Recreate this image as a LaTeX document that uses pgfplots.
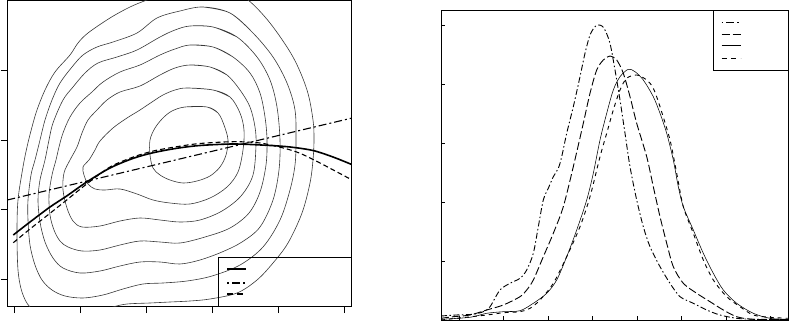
\documentclass[border=0pt]{standalone}
\usepackage{pgfplots}
\pgfplotsset{compat=1.18}
\begin{document}
\begin{tikzpicture}
\useasboundingbox (0pt,0pt) rectangle (789pt,321pt);
\begin{axis}[
  at={(7.3pt,14.3pt)}, anchor=south west,
  scale only axis, width=344.4pt, height=306.2pt,
  xmin=7.3, xmax=351.7, ymin=-306.7, ymax=-0.5,
  xtick={14,80,146,212,278,344}, ytick={-279.3,-209.3,-140,-70},
  xticklabels={}, yticklabels={},
  tick align=outside, xtick pos=left, ytick pos=left,
  major tick length=6.5pt,
  axis line style={line width=0.8pt},
  every tick/.style={black, line width=0.7pt},
  contour/.style={black!78, line width=0.6pt, smooth, tension=0.55},
]
% contours, innermost to outermost
\addplot[contour] coordinates {(185,-107)(207,-107)(218,-113)(224,-125)(228,-140)(226,-155)(220,-167)(210,-176)(197,-181)(183,-183)(170,-180)(160,-175)(153,-168)(150,-155)(150,-140)(155,-128)(163,-118)(172,-111)(185,-107)(207,-107)(218,-113)};
\addplot[contour] coordinates {(187,-88)(213,-90)(230,-97)(240,-113)(244,-130)(243,-150)(238,-172)(227,-187)(210,-198)(190,-204)(170,-203)(153,-200)(137,-194)(120,-189)(105,-190)(95,-189)(88,-184)(84,-175)(83,-167)(89,-160)(95,-150)(100,-141)(113,-128)(127,-118)(140,-110)(152,-102)(163,-95)(175,-90)(187,-88)(213,-90)(230,-97)};
\addplot[contour] coordinates {(190,-65)(210,-67)(227,-75)(240,-90)(250,-107)(255,-127)(256,-145)(253,-175)(241,-196)(222,-211)(200,-220)(180,-222)(160,-220)(140,-218)(120,-221)(100,-226)(82,-227)(73,-221)(67,-208)(63,-190)(64,-173)(70,-160)(77,-147)(82,-133)(88,-120)(97,-110)(107,-100)(120,-92)(140,-86)(160,-75)(175,-68)(190,-65)(210,-67)(227,-75)};
\addplot[contour] coordinates {(190,-45)(213,-47)(233,-57)(250,-73)(260,-93)(265,-117)(267,-140)(266,-165)(260,-192)(249,-213)(230,-228)(205,-237)(180,-243)(160,-242)(140,-241)(120,-245)(100,-250)(82,-251)(68,-247)(60,-241)(54,-230)(50,-215)(49,-195)(52,-175)(56,-160)(59,-147)(63,-133)(70,-117)(80,-103)(92,-92)(103,-82)(120,-72)(140,-65)(160,-55)(175,-49)(190,-45)(213,-47)(233,-57)};
\addplot[contour] coordinates {(190,-26)(213,-27)(237,-37)(257,-57)(270,-80)(277,-107)(280,-140)(279,-170)(273,-200)(260,-227)(242,-242)(222,-252)(200,-260)(180,-264)(160,-262)(140,-262)(120,-266)(100,-271)(80,-273)(63,-268)(53,-258)(45,-242)(40,-222)(38,-200)(40,-180)(45,-160)(49,-140)(53,-123)(63,-100)(73,-87)(85,-73)(98,-63)(117,-57)(137,-50)(160,-37)(175,-30)(190,-26)(213,-27)(237,-37)};
\addplot[contour] coordinates {(203,-7)(230,-13)(253,-33)(273,-57)(287,-83)(295,-110)(296,-140)(295,-165)(290,-190)(280,-220)(263,-247)(240,-265)(212,-276)(187,-281)(163,-283)(143,-284)(123,-289)(103,-295)(83,-298)(65,-296)(52,-290)(42,-280)(35,-265)(30,-245)(28,-220)(28,-200)(31,-175)(35,-160)(40,-140)(45,-120)(52,-100)(60,-83)(72,-67)(83,-55)(97,-47)(113,-42)(137,-33)(157,-18)(180,-11)(203,-7)(230,-13)(253,-33)};
\addplot[contour] coordinates {(170,8)(200,12)(230,8)(248,0)(270,-23)(293,-57)(307,-90)(313,-120)(314,-140)(313,-160)(310,-183)(302,-213)(288,-243)(273,-263)(257,-280)(237,-293)(210,-299)(190,-301)(170,-302)(150,-303)(127,-304)(113,-307)(95,-313)(70,-316)(45,-314)(30,-307)(22,-292)(18,-270)(17,-233)(18,-200)(23,-167)(27,-147)(32,-127)(37,-110)(45,-90)(55,-72)(70,-55)(78,-43)(88,-33)(110,-18)(130,-7)(147,0)(170,8)(200,12)(230,8)};
% fitted curves
\addplot[black, line width=1.6pt, smooth, tension=0.5] coordinates {(13.3,-235)(30,-222)(50,-207)(66.7,-196)(86.7,-182)(110,-168)(133.3,-158.3)(153.3,-152.7)(176.7,-148.3)(200,-145.5)(233.3,-144)(266.7,-145.3)(290,-147)(313,-150.5)(333,-157)(351.7,-164.5)};
\addplot[black, line width=1.1pt, dash pattern=on 8pt off 3pt on 2pt off 3pt] coordinates {(7.3,-200)(351.7,-118.1)};
\addplot[black, line width=1.1pt, dash pattern=on 5pt off 3pt, smooth, tension=0.5] coordinates {(13.3,-242.7)(30,-229)(50,-213.3)(66.7,-200)(86.7,-184)(110,-167)(133.3,-157)(153.3,-151)(176.7,-146.7)(200,-143.5)(233.3,-141.7)(260,-143)(283.3,-148)(300,-153.3)(320,-163)(351.7,-179.8)};
% legend
\draw[black, line width=0.8pt] (axis cs:218,-306.7) rectangle (axis cs:351.7,-257);
\draw[black, line width=1.6pt] (axis cs:227,-269) -- (axis cs:246,-269);
\draw[black, line width=1.1pt, dash pattern=on 2pt off 3pt on 8pt off 3pt] (axis cs:227,-283) -- (axis cs:246,-283);
\draw[black, line width=1.1pt, dash pattern=on 6pt off 3.5pt] (axis cs:227,-294) -- (axis cs:246,-294);
\end{axis}

\begin{axis}[
  at={(441pt,1pt)}, anchor=south west,
  scale only axis, width=347pt, height=310pt,
  xmin=441, xmax=788, ymin=-320, ymax=-10,
  xtick={459.2,503.7,548.2,592.7,637.2,681.7,726.2,770.7},
  ytick={-261.3,-202.3,-143.3,-84,-25},
  xticklabels={}, yticklabels={},
  tick align=inside, xtick pos=left, ytick pos=left,
  major tick length=4pt,
  axis line style={line width=0.8pt},
  every tick/.style={black, line width=0.7pt},
]
\addplot[black, line width=0.9pt, smooth, tension=0.5, dash pattern=on 6pt off 2.5pt on 1.5pt off 2.5pt] coordinates {(441,-316)(456,-315)(472.7,-314.3)(483.3,-311.7)(490,-306.7)(500,-290)(510,-283.3)(520,-278.3)(526.7,-270)(533.3,-253.3)(538.3,-226.7)(543.3,-200)(548.3,-188.3)(553.3,-176.7)(558.3,-168.3)(561.7,-156.7)(566.7,-133.3)(573.3,-106.7)(580,-76.7)(585,-53.3)(590,-35)(595,-26.7)(598.3,-25)(602,-26)(605,-30)(610,-43.3)(615,-70)(620,-100)(625,-133.3)(630,-166.7)(636.7,-200)(643.3,-226.7)(650,-246.7)(660,-266.7)(670,-283.3)(680,-296.7)(693.3,-303.3)(706.7,-310)(720,-315)(736.7,-318.3)(753.3,-319.3)(788,-319.5)};
\addplot[black, line width=0.9pt, smooth, tension=0.5, dash pattern=on 8pt off 3pt] coordinates {(441,-318.3)(453.3,-316.7)(470,-315)(486.7,-310)(503.3,-305)(520,-296.7)(526.7,-290)(533.3,-280)(543.3,-256.7)(553.3,-233.3)(563.3,-206.7)(573.3,-166.7)(583.3,-123.3)(590,-93.3)(596.7,-70)(603.3,-60)(610,-56)(616.7,-60)(623.3,-73.3)(630,-96.7)(636.7,-123.3)(646.7,-156.7)(653.3,-186.7)(660,-216.7)(666.7,-243.3)(673.3,-266.7)(683.3,-283.3)(696.7,-293.3)(710,-301.7)(723.3,-310)(736.7,-316.7)(753.3,-319.3)(788,-319.5)};
\addplot[black, line width=0.55pt, smooth, tension=0.5] coordinates {(441,-319.3)(470,-317.3)(486.7,-313.3)(503.3,-311.7)(520,-310.7)(533.3,-303.3)(546.7,-293.3)(556.7,-280)(566.7,-256.7)(576.7,-230)(586.7,-200)(593.3,-173.3)(600,-140)(606.7,-113.3)(613.3,-90)(620,-76.7)(628.3,-69.3)(635,-71.7)(643.3,-80)(653.3,-96.7)(660,-113.3)(666.7,-133.3)(673.3,-160)(678.3,-186.7)(683.3,-206.7)(693.3,-230)(703.3,-253.3)(713.3,-273.3)(723.3,-290)(736.7,-303.3)(753.3,-313.3)(770,-318.3)(788,-319.3)};
\addplot[black, line width=0.9pt, smooth, tension=0.5, dash pattern=on 4pt off 4pt] coordinates {(441,-320)(486.7,-315)(503.3,-312.7)(520,-311.7)(530,-308.3)(540,-300)(553.3,-283.3)(566.7,-256.7)(580,-226.7)(590,-196.7)(600,-156.7)(606.7,-133.3)(613.3,-110)(620,-90)(626.7,-78.3)(636.7,-75)(646.7,-80)(653.3,-88.3)(660,-106.7)(670,-140)(676.7,-173.3)(683.3,-206.7)(693.3,-233.3)(703.3,-260)(713.3,-280)(726.7,-296.7)(740,-306.7)(753.3,-315)(770,-317.3)(788,-318.3)};
% legend
\draw[black, line width=0.8pt, fill=white] (axis cs:713,-70) rectangle (axis cs:788,-10);
\draw[black, line width=0.9pt, dash pattern=on 1.5pt off 3pt on 8pt off 3pt] (axis cs:721.7,-22.7) -- (axis cs:740.7,-22.7);
\draw[black, line width=0.9pt, dash pattern=on 8pt off 3pt] (axis cs:721.7,-34) -- (axis cs:740.7,-34);
\draw[black, line width=0.9pt] (axis cs:721.7,-45.7) -- (axis cs:740.7,-45.7);
\draw[black, line width=0.9pt, dash pattern=on 5pt off 4.5pt] (axis cs:721.7,-58.3) -- (axis cs:740.7,-58.3);
\end{axis}
\end{tikzpicture}
\end{document}
